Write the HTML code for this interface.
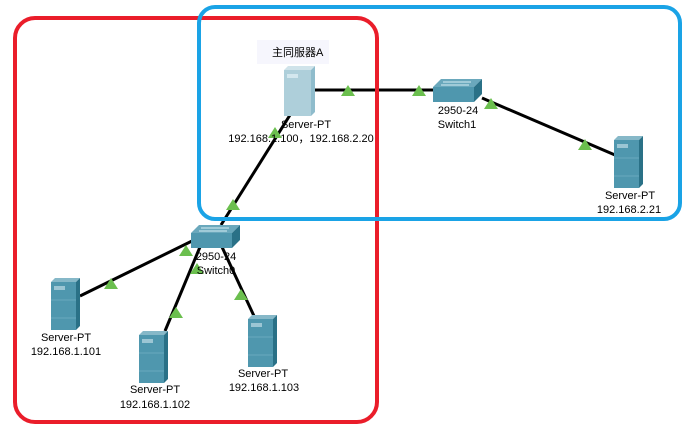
<!DOCTYPE html>
<html><head><meta charset="utf-8"><style>
html,body{margin:0;padding:0;background:#fff;}
text{font-family:"Liberation Sans","Noto Sans CJK SC",sans-serif;font-size:11px;fill:#000;}
</style></head><body>
<svg width="684" height="431" xmlns="http://www.w3.org/2000/svg">
<defs>
<g id="srv">
<polygon points="0,4 4,0 29,0 25,4" fill="#86b8c8"/>
<rect x="0" y="4" width="25" height="48" fill="#4f97ae"/>
<polygon points="25,4 29,0 29,48 25,52" fill="#2a7187"/>
<rect x="3" y="8" width="11" height="4" fill="#9cc6d4"/>
<line x1="0" y1="22" x2="25" y2="22" stroke="#6aaabd" stroke-width="1"/>
<line x1="0" y1="40" x2="25" y2="40" stroke="#6aaabd" stroke-width="1"/>
</g>
<g id="sw">
<polygon points="0,8 8,0 49,0 41,8" fill="#6aa8bc"/>
<rect x="0" y="8" width="41" height="15" fill="#4f97ae"/>
<polygon points="41,8 49,0 49,15 41,23" fill="#2a7187"/>
<line x1="10" y1="3" x2="38" y2="3" stroke="#d6eef5" stroke-width="1"/>
<line x1="8" y1="6" x2="36" y2="6" stroke="#d6eef5" stroke-width="1"/>
</g>
<polygon id="tri" points="0,-7 7,4 -7,4" fill="#6bbf4e"/>
</defs>
<g stroke="#000" stroke-width="3">
<line x1="314" y1="90" x2="433" y2="90"/>
<line x1="482" y1="98" x2="615" y2="155"/>
<line x1="290" y1="115" x2="221" y2="225"/>
<line x1="192" y1="241" x2="80" y2="296"/>
<line x1="200" y1="247" x2="165" y2="331"/>
<line x1="222" y1="247" x2="254" y2="316"/>
</g>
<rect x="15" y="18" width="362" height="404" rx="20" fill="none" stroke="#ea1d2a" stroke-width="4"/>
<rect x="199" y="7" width="481" height="212" rx="16" fill="none" stroke="#1aa3e6" stroke-width="4"/>
<rect x="257" y="40" width="72" height="24" fill="#f6f6fd"/>
<text x="272" y="56" font-size="12">主同服器A</text>
<g transform="translate(284,66)">
<polygon points="0,4 4,0 31,0 27,4" fill="#cfe3ea"/>
<rect x="0" y="4" width="27" height="46" fill="#aecfda"/>
<polygon points="27,4 31,0 31,46 27,50" fill="#8fbccc"/>
<rect x="3" y="8" width="11" height="4" fill="#d3e7ee"/>
</g>
<use href="#sw" x="433" y="79"/>
<use href="#sw" x="191" y="225"/>
<use href="#srv" x="614" y="136"/>
<use href="#srv" x="51" y="278"/>
<use href="#srv" x="139" y="331"/>
<use href="#srv" x="248" y="315"/>
<use href="#tri" x="348" y="92"/>
<use href="#tri" x="419" y="92"/>
<use href="#tri" x="491" y="105"/>
<use href="#tri" x="585" y="146"/>
<use href="#tri" x="275" y="134"/>
<use href="#tri" x="233" y="206"/>
<use href="#tri" x="111" y="285"/>
<use href="#tri" x="176" y="314"/>
<use href="#tri" x="241" y="296"/>
<use href="#tri" x="197" y="270"/>
<use href="#tri" x="186" y="252"/>
<text x="306" y="128" text-anchor="middle">Server-PT</text>
<text x="301" y="142" text-anchor="middle">192.168.1.100，192.168.2.20</text>
<text x="458" y="114" text-anchor="middle">2950-24</text>
<text x="457" y="128" text-anchor="middle">Switch1</text>
<text x="216" y="260" text-anchor="middle">2950-24</text>
<text x="216" y="274" text-anchor="middle">Switch0</text>
<text x="630" y="199" text-anchor="middle">Server-PT</text>
<text x="629" y="213" text-anchor="middle">192.168.2.21</text>
<text x="66" y="341" text-anchor="middle">Server-PT</text>
<text x="66" y="355" text-anchor="middle">192.168.1.101</text>
<text x="155" y="393" text-anchor="middle">Server-PT</text>
<text x="155" y="408" text-anchor="middle">192.168.1.102</text>
<text x="263" y="377" text-anchor="middle">Server-PT</text>
<text x="264" y="391" text-anchor="middle">192.168.1.103</text>
</svg>
</body></html>
